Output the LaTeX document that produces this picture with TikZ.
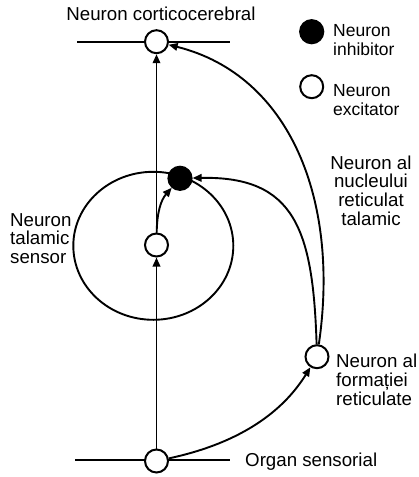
\documentclass[tikz,border=0pt]{standalone}
\usepackage{fontspec}
\setmainfont{Liberation Sans}
\usetikzlibrary{arrows.meta}
\tikzset{
  neuron/.style={circle, draw, line width=2pt, minimum size=23pt, inner sep=0pt, fill=white},
  inhib/.style={circle, draw, line width=1.2pt, minimum size=24pt, inner sep=0pt, fill=black},
  conn/.style={line width=1.9pt, -{Triangle[length=9pt,width=7.5pt]}},
  plain/.style={line width=1.9pt},
  lbl/.style={inner sep=0pt, font=\fontsize{18.7}{18.6}\selectfont},
  leg/.style={inner sep=0pt, font=\fontsize{17.5}{18.3}\selectfont, align=left, anchor=base west},
}
\begin{document}
\begin{tikzpicture}[x=1pt, y=-1pt]
\useasboundingbox (0,0) rectangle (419,477);
% horizontal lines
\coordinate (ctl) at (77,41.7);
\coordinate (ctr) at (230,41.7);
\coordinate (sbl) at (75,460);
\coordinate (sbr) at (230,460);
\draw[plain] (ctl) -- (ctr);
\draw[plain] (sbl) -- (sbr);
% thalamus ellipse
\draw[plain] (153.3,245.8) ellipse [x radius=80, y radius=74];
% neurons
\node[neuron] (cort) at (156.5,41.7) {};
\node[neuron] (thal) at (156.5,245) {};
\node[inhib] (inh) at (180,178.3) {};
\node[neuron] (ret) at (317,356.7) {};
\node[neuron] (sens) at (156.5,461) {};
% connectors
\draw[conn] (sens) -- (thal);
\draw[conn] (thal) -- (cort);
\draw[conn] (thal) .. controls (157,212) and (161,200) .. (inh);
\draw[conn] (sens) .. controls (255,440) and (290,400) .. (ret);
\draw[conn] (ret) .. controls (340,200) and (290,75) .. (cort);
\draw[conn] (ret) .. controls (313,230) and (295,176) .. (inh);
% legend
\node[inhib] (leginh) at (311.7,31.7) {};
\node[neuron] (legexc) at (311.7,86.7) {};
\node[leg] (leginht) at (333,55) {Neuron\\inhibitor};
\node[leg] (legexct) at (333,115) {Neuron\\excitator};
% labels
\node[lbl, anchor=base] (tcort) at (161,20) {Neuron corticocerebral};
\node[lbl, align=left, anchor=base west] (tthal) at (10,263.3) {Neuron\\talamic\\sensor};
\node[lbl, align=center, anchor=base] (tnuc) at (371,225) {Neuron al\\nucleului\\reticulat\\talamic};
\node[lbl, align=left, anchor=base west] (tret) at (336,405) {Neuron al\\formației\\reticulate};
\node[lbl, anchor=base west] (tsens) at (245,466) {Organ sensorial};
\end{tikzpicture}
\end{document}
